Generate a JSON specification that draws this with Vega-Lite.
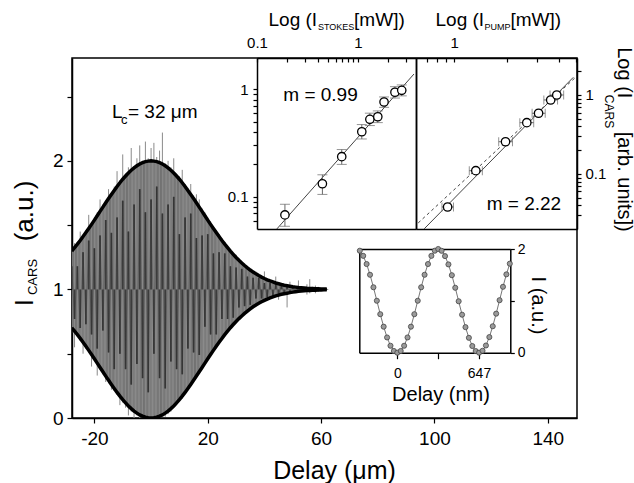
{
  "$schema": "https://vega.github.io/schema/vega-lite/v6.json",
  "width": 505,
  "height": 360,
  "autosize": {"type": "none"},
  "padding": {"left": 72, "top": 58, "right": 57, "bottom": 65},
  "config": {
    "font": "Liberation Sans",
    "view": {"stroke": "#000", "strokeWidth": 1.5},
    "axis": {
      "domainColor": "#000", "domainWidth": 1.5, "tickColor": "#000", "tickWidth": 1.2,
      "labelColor": "#000", "titleColor": "#000", "titleFontWeight": "normal",
      "labelFont": "Liberation Sans", "titleFont": "Liberation Sans",
      "labelFlush": false, "labelOverlap": false, "grid": false
    }
  },
  "datasets": {
    "main": [
      {"x": -28, "u": 1.298, "l": 0.702, "h": 1.32, "lo": 0.66, "z": 1.18},
      {"x": -27, "u": 1.325, "l": 0.675, "h": 1.36, "lo": 0.55, "z": 0.77},
      {"x": -26, "u": 1.352, "l": 0.648, "h": 1.37, "lo": 0.63, "z": 1.18},
      {"x": -25, "u": 1.381, "l": 0.619, "h": 1.45, "lo": 0.6, "z": 0.7},
      {"x": -24, "u": 1.411, "l": 0.589, "h": 1.42, "lo": 0.5, "z": 1.29},
      {"x": -23, "u": 1.442, "l": 0.558, "h": 1.46, "lo": 0.54, "z": 0.73},
      {"x": -22, "u": 1.474, "l": 0.526, "h": 1.58, "lo": 0.51, "z": 1.38},
      {"x": -21, "u": 1.506, "l": 0.494, "h": 1.52, "lo": 0.4, "z": 0.65},
      {"x": -20, "u": 1.539, "l": 0.461, "h": 1.56, "lo": 0.45, "z": 1.32},
      {"x": -19, "u": 1.573, "l": 0.427, "h": 1.6, "lo": 0.33, "z": 0.54},
      {"x": -18, "u": 1.607, "l": 0.393, "h": 1.7, "lo": 0.38, "z": 1.42},
      {"x": -17, "u": 1.64, "l": 0.36, "h": 1.66, "lo": 0.34, "z": 0.68},
      {"x": -16, "u": 1.674, "l": 0.326, "h": 1.69, "lo": 0.28, "z": 1.54},
      {"x": -15, "u": 1.707, "l": 0.293, "h": 1.78, "lo": 0.27, "z": 0.51},
      {"x": -14, "u": 1.739, "l": 0.261, "h": 1.75, "lo": 0.22, "z": 1.44},
      {"x": -13, "u": 1.77, "l": 0.23, "h": 1.8, "lo": 0.21, "z": 0.38},
      {"x": -12, "u": 1.801, "l": 0.199, "h": 1.92, "lo": 0.18, "z": 1.56},
      {"x": -11, "u": 1.83, "l": 0.17, "h": 1.85, "lo": 0.1, "z": 0.5},
      {"x": -10, "u": 1.857, "l": 0.143, "h": 2.05, "lo": 0.12, "z": 1.69},
      {"x": -9, "u": 1.882, "l": 0.118, "h": 1.9, "lo": 0.08, "z": 0.38},
      {"x": -8, "u": 1.906, "l": 0.094, "h": 1.95, "lo": 0.02, "z": 1.45},
      {"x": -7, "u": 1.927, "l": 0.073, "h": 2.1, "lo": 0.05, "z": 0.26},
      {"x": -6, "u": 1.946, "l": 0.054, "h": 1.96, "lo": 0, "z": 1.66},
      {"x": -5, "u": 1.962, "l": 0.038, "h": 2.02, "lo": 0.02, "z": 0.42},
      {"x": -4, "u": 1.976, "l": 0.024, "h": 2.12, "lo": 0, "z": 1.78},
      {"x": -3, "u": 1.986, "l": 0.014, "h": 2.0, "lo": 0, "z": 0.31},
      {"x": -2, "u": 1.994, "l": 0.006, "h": 2.15, "lo": 0, "z": 1.6},
      {"x": -1, "u": 1.998, "l": 0.002, "h": 2.02, "lo": 0, "z": 0.2},
      {"x": 0, "u": 2.0, "l": 0.0, "h": 2.1, "lo": 0, "z": 1.7},
      {"x": 1, "u": 1.998, "l": 0.002, "h": 2.14, "lo": 0, "z": 0.5},
      {"x": 2, "u": 1.994, "l": 0.006, "h": 2.03, "lo": 0, "z": 1.8},
      {"x": 3, "u": 1.986, "l": 0.014, "h": 2.08, "lo": 0, "z": 0.31},
      {"x": 4, "u": 1.976, "l": 0.024, "h": 2.22, "lo": 0.02, "z": 1.59},
      {"x": 5, "u": 1.962, "l": 0.038, "h": 1.98, "lo": 0.01, "z": 0.23},
      {"x": 6, "u": 1.946, "l": 0.054, "h": 2.0, "lo": 0.03, "z": 1.66},
      {"x": 7, "u": 1.927, "l": 0.073, "h": 1.95, "lo": 0.05, "z": 0.44},
      {"x": 8, "u": 1.906, "l": 0.094, "h": 2.02, "lo": 0.09, "z": 1.72},
      {"x": 9, "u": 1.882, "l": 0.118, "h": 1.9, "lo": 0.1, "z": 0.38},
      {"x": 10, "u": 1.857, "l": 0.143, "h": 1.88, "lo": 0.14, "z": 1.43},
      {"x": 11, "u": 1.83, "l": 0.17, "h": 1.93, "lo": 0.15, "z": 0.34},
      {"x": 12, "u": 1.801, "l": 0.199, "h": 1.82, "lo": 0.2, "z": 1.56},
      {"x": 13, "u": 1.77, "l": 0.23, "h": 1.79, "lo": 0.24, "z": 0.54},
      {"x": 14, "u": 1.739, "l": 0.261, "h": 1.82, "lo": 0.25, "z": 1.59},
      {"x": 15, "u": 1.707, "l": 0.293, "h": 1.73, "lo": 0.3, "z": 0.51},
      {"x": 16, "u": 1.674, "l": 0.326, "h": 1.74, "lo": 0.32, "z": 1.4},
      {"x": 17, "u": 1.64, "l": 0.36, "h": 1.7, "lo": 0.36, "z": 0.49},
      {"x": 18, "u": 1.607, "l": 0.393, "h": 1.63, "lo": 0.4, "z": 1.42},
      {"x": 19, "u": 1.573, "l": 0.427, "h": 1.6, "lo": 0.43, "z": 0.71},
      {"x": 20, "u": 1.539, "l": 0.461, "h": 1.56, "lo": 0.46, "z": 1.43},
      {"x": 21, "u": 1.506, "l": 0.494, "h": 1.53, "lo": 0.5, "z": 0.65},
      {"x": 22, "u": 1.474, "l": 0.526, "h": 1.49, "lo": 0.53, "z": 1.28},
      {"x": 23, "u": 1.442, "l": 0.558, "h": 1.46, "lo": 0.56, "z": 0.65},
      {"x": 24, "u": 1.411, "l": 0.589, "h": 1.43, "lo": 0.59, "z": 1.29},
      {"x": 25, "u": 1.381, "l": 0.619, "h": 1.4, "lo": 0.62, "z": 0.77},
      {"x": 26, "u": 1.352, "l": 0.648, "h": 1.37, "lo": 0.65, "z": 1.28},
      {"x": 27, "u": 1.325, "l": 0.675, "h": 1.34, "lo": 0.68, "z": 0.77},
      {"x": 28, "u": 1.298, "l": 0.702, "h": 1.31, "lo": 0.7, "z": 1.18},
      {"x": 29, "u": 1.273, "l": 0.727, "h": 1.28, "lo": 0.73, "z": 0.78},
      {"x": 30, "u": 1.249, "l": 0.751, "h": 1.27, "lo": 0.75, "z": 1.17},
      {"x": 31, "u": 1.227, "l": 0.773, "h": 1.24, "lo": 0.78, "z": 0.86},
      {"x": 32, "u": 1.206, "l": 0.794, "h": 1.22, "lo": 0.79, "z": 1.16},
      {"x": 33, "u": 1.186, "l": 0.814, "h": 1.2, "lo": 0.81, "z": 0.87},
      {"x": 34, "u": 1.168, "l": 0.832, "h": 1.18, "lo": 0.83, "z": 1.1},
      {"x": 35, "u": 1.151, "l": 0.849, "h": 1.16, "lo": 0.84, "z": 0.88},
      {"x": 36, "u": 1.135, "l": 0.865, "h": 1.15, "lo": 0.86, "z": 1.09},
      {"x": 37, "u": 1.121, "l": 0.879, "h": 1.14, "lo": 0.87, "z": 0.93},
      {"x": 38, "u": 1.108, "l": 0.892, "h": 1.12, "lo": 0.88, "z": 1.09},
      {"x": 39, "u": 1.096, "l": 0.904, "h": 1.11, "lo": 0.9, "z": 0.93},
      {"x": 40, "u": 1.085, "l": 0.915, "h": 1.14, "lo": 0.91, "z": 1.05},
      {"x": 41, "u": 1.075, "l": 0.925, "h": 1.08, "lo": 0.92, "z": 0.94},
      {"x": 42, "u": 1.066, "l": 0.934, "h": 1.07, "lo": 0.93, "z": 1.05},
      {"x": 43, "u": 1.058, "l": 0.942, "h": 1.06, "lo": 0.94, "z": 0.95},
      {"x": 44, "u": 1.05, "l": 0.95, "h": 1.1, "lo": 0.94, "z": 1.04},
      {"x": 45, "u": 1.044, "l": 0.956, "h": 1.05, "lo": 0.92, "z": 0.96},
      {"x": 46, "u": 1.038, "l": 0.962, "h": 1.04, "lo": 0.96, "z": 1.03},
      {"x": 47, "u": 1.033, "l": 0.967, "h": 1.04, "lo": 0.96, "z": 0.97},
      {"x": 48, "u": 1.029, "l": 0.971, "h": 1.03, "lo": 0.86, "z": 1.02},
      {"x": 49, "u": 1.025, "l": 0.975, "h": 1.06, "lo": 0.97, "z": 0.98},
      {"x": 50, "u": 1.021, "l": 0.979, "h": 1.03, "lo": 0.97, "z": 1.02},
      {"x": 51, "u": 1.018, "l": 0.982, "h": 1.02, "lo": 0.98, "z": 0.98},
      {"x": 52, "u": 1.015, "l": 0.985, "h": 1.07, "lo": 0.98, "z": 1.01},
      {"x": 53, "u": 1.013, "l": 0.987, "h": 1.02, "lo": 0.98, "z": 0.99},
      {"x": 54, "u": 1.011, "l": 0.989, "h": 1.02, "lo": 0.98, "z": 1.01},
      {"x": 55, "u": 1.009, "l": 0.991, "h": 1.04, "lo": 0.96, "z": 0.99},
      {"x": 56, "u": 1.008, "l": 0.992, "h": 1.08, "lo": 0.97, "z": 1.01},
      {"x": 57, "u": 1.007, "l": 0.993, "h": 1.02, "lo": 0.98, "z": 0.99},
      {"x": 58, "u": 1.006, "l": 0.994, "h": 1.03, "lo": 0.97, "z": 1.01},
      {"x": 59, "u": 1.005, "l": 0.995, "h": 1.02, "lo": 0.98, "z": 0.99},
      {"x": 60, "u": 1.004, "l": 0.996, "h": 1.01, "lo": 0.99, "z": 1.0},
      {"x": 61, "u": 1.003, "l": 0.997, "h": 1.01, "lo": 0.99, "z": 1.0},
      {"x": 62, "u": 1.003, "l": 0.997, "h": 1.005, "lo": 0.995, "z": 1.0}
    ],
    "stokes": [
      {"x": 0.189, "y": 0.0676, "ylo": 0.053, "yhi": 0.085},
      {"x": 0.444, "y": 0.132, "ylo": 0.105, "yhi": 0.16},
      {"x": 0.69, "y": 0.236, "ylo": 0.2, "yhi": 0.275},
      {"x": 1.09, "y": 0.403, "ylo": 0.345, "yhi": 0.47},
      {"x": 1.31, "y": 0.526, "ylo": 0.46, "yhi": 0.6},
      {"x": 1.57, "y": 0.556, "ylo": 0.49, "yhi": 0.63},
      {"x": 1.81, "y": 0.762, "ylo": 0.68, "yhi": 0.85},
      {"x": 2.32, "y": 0.94, "ylo": 0.83, "yhi": 1.06},
      {"x": 2.71, "y": 0.98, "ylo": 0.87, "yhi": 1.1}
    ],
    "pump": [
      {"x": 0.916, "y": 0.0382, "xlo": 0.85, "xhi": 0.99},
      {"x": 1.33, "y": 0.11, "xlo": 1.22, "xhi": 1.45},
      {"x": 1.97, "y": 0.256, "xlo": 1.8, "xhi": 2.16},
      {"x": 2.61, "y": 0.446, "xlo": 2.38, "xhi": 2.86},
      {"x": 3.05, "y": 0.587, "xlo": 2.8, "xhi": 3.33},
      {"x": 3.58, "y": 0.865, "xlo": 3.27, "xhi": 3.92},
      {"x": 3.88, "y": 1.0, "xlo": 3.55, "xhi": 4.25}
    ],
    "wave": [
      {"d": -297, "i": 1.967}, {"d": -270, "i": 1.868}, {"d": -243, "i": 1.71}, {"d": -216, "i": 1.503},
      {"d": -189, "i": 1.262}, {"d": -162, "i": 1.002}, {"d": -135, "i": 0.743}, {"d": -108, "i": 0.502},
      {"d": -81, "i": 0.294}, {"d": -54, "i": 0.134}, {"d": -27, "i": 0.034}, {"d": 0, "i": 0.0},
      {"d": 27, "i": 0.034}, {"d": 54, "i": 0.134}, {"d": 81, "i": 0.294}, {"d": 108, "i": 0.502},
      {"d": 135, "i": 0.743}, {"d": 162, "i": 1.002}, {"d": 189, "i": 1.262}, {"d": 216, "i": 1.503},
      {"d": 243, "i": 1.71}, {"d": 270, "i": 1.868}, {"d": 297, "i": 1.967}, {"d": 324, "i": 2.0},
      {"d": 351, "i": 1.965}, {"d": 378, "i": 1.863}, {"d": 405, "i": 1.703}, {"d": 432, "i": 1.495},
      {"d": 459, "i": 1.252}, {"d": 486, "i": 0.992}, {"d": 513, "i": 0.733}, {"d": 540, "i": 0.493},
      {"d": 567, "i": 0.287}, {"d": 594, "i": 0.129}, {"d": 621, "i": 0.032}, {"d": 648, "i": 0.0},
      {"d": 675, "i": 0.037}, {"d": 702, "i": 0.139}, {"d": 729, "i": 0.301}, {"d": 756, "i": 0.51},
      {"d": 783, "i": 0.753}, {"d": 810, "i": 1.013}, {"d": 837, "i": 1.271}, {"d": 864, "i": 1.511},
      {"d": 891, "i": 1.717}
    ]
  },
  "layer": [
    {
      "layer": [
        {
          "data": {"name": "main"},
          "mark": {"type": "rule", "color": "#727272", "strokeWidth": 3, "clip": true},
          "encoding": {
            "x": {
              "field": "x", "type": "quantitative",
              "scale": {"domain": [-27.9, 150.3], "nice": false, "zero": false},
              "axis": {
                "orient": "bottom", "values": [-20, 20, 60, 100, 140],
                "labelExpr": "datum.value < 0 ? '-' + abs(datum.value) : '' + datum.value",
                "tickSize": 5, "labelPadding": 6, "labelFontSize": 19,
                "title": "Delay (μm)", "titleFontSize": 25,
                "titleX": 262, "titleY": 60, "titleAlign": "center", "titleBaseline": "alphabetic"
              }
            },
            "y": {
              "field": "l", "type": "quantitative",
              "scale": {"domain": [0, 2.8], "nice": false, "zero": false},
              "axis": {
                "orient": "left", "values": [0, 0.5, 1, 1.5, 2, 2.5],
                "labelExpr": "datum.value == 0 ? '0' : datum.value == 1 ? '1' : datum.value == 2 ? '2' : ''",
                "tickSize": 5, "labelPadding": 4, "labelFontSize": 19,
                "title": "I\u00a0\u00a0\u00a0\u00a0\u00a0\u00a0\u00a0\u00a0(a.u.)", "titleFontSize": 26,
                "titleAngle": 270, "titleX": -40, "titleY": 185, "titleAlign": "center", "titleBaseline": "alphabetic"
              }
            },
            "y2": {"field": "u"}
          }
        },
        {
          "data": {"name": "main"},
          "mark": {"type": "rule", "color": "#8a8a8a", "strokeWidth": 1, "clip": true},
          "encoding": {
            "x": {"field": "x", "type": "quantitative", "scale": {"domain": [-27.9, 150.3]}, "axis": null},
            "y": {"field": "lo", "type": "quantitative", "scale": {"domain": [0, 2.8]}, "axis": null},
            "y2": {"field": "h"}
          }
        },
        {
          "data": {"name": "main"},
          "mark": {"type": "rule", "color": "#3c3c3c", "strokeWidth": 1.7, "clip": true},
          "encoding": {
            "x": {"field": "x", "type": "quantitative", "scale": {"domain": [-27.9, 150.3]}, "axis": null},
            "y": {"field": "z", "type": "quantitative", "scale": {"domain": [0, 2.8]}, "axis": null},
            "y2": {"datum": 1}
          }
        },
        {
          "data": {"name": "main"},
          "mark": {"type": "line", "color": "#333", "strokeWidth": 0.7, "opacity": 0.6, "clip": true},
          "encoding": {
            "x": {"field": "x", "type": "quantitative", "scale": {"domain": [-27.9, 150.3]}, "axis": null},
            "y": {"field": "z", "type": "quantitative", "scale": {"domain": [0, 2.8]}, "axis": null}
          }
        },
        {
          "data": {"name": "main"},
          "mark": {"type": "line", "color": "#000", "strokeWidth": 3.5, "clip": true},
          "encoding": {
            "x": {"field": "x", "type": "quantitative", "scale": {"domain": [-27.9, 150.3]}, "axis": null},
            "y": {"field": "u", "type": "quantitative", "scale": {"domain": [0, 2.8]}, "axis": null}
          }
        },
        {
          "data": {"name": "main"},
          "mark": {"type": "line", "color": "#000", "strokeWidth": 3.5, "clip": true},
          "encoding": {
            "x": {"field": "x", "type": "quantitative", "scale": {"domain": [-27.9, 150.3]}, "axis": null},
            "y": {"field": "l", "type": "quantitative", "scale": {"domain": [0, 2.8]}, "axis": null}
          }
        },
        {
          "data": {"values": [
            {"x": -13.79, "y": 2.333, "t": "L"},
            {"x": -8.14, "y": 2.333, "t": "= 32 μm"},
            {"x": 46.66, "y": 2.466, "t": "m = 0.99"},
            {"x": 118.43, "y": 1.618, "t": "m = 2.22"}
          ]},
          "mark": {"type": "text", "fontSize": 19, "align": "left", "baseline": "alphabetic", "color": "#000"},
          "encoding": {
            "x": {"field": "x", "type": "quantitative", "scale": {"domain": [-27.9, 150.3]}, "axis": null},
            "y": {"field": "y", "type": "quantitative", "scale": {"domain": [0, 2.8]}, "axis": null},
            "text": {"field": "t"}
          }
        },
        {
          "data": {"values": [{"x": -10.61, "y": 2.287, "t": "c"}]},
          "mark": {"type": "text", "fontSize": 13, "align": "left", "baseline": "alphabetic", "color": "#000"},
          "encoding": {
            "x": {"field": "x", "type": "quantitative", "scale": {"domain": [-27.9, 150.3]}, "axis": null},
            "y": {"field": "y", "type": "quantitative", "scale": {"domain": [0, 2.8]}, "axis": null},
            "text": {"field": "t"}
          }
        },
        {
          "data": {"values": [
            {"x": 58.91, "y": 3.018, "t": "STOKES"},
            {"x": 117.66, "y": 3.018, "t": "PUMP"}
          ]},
          "mark": {"type": "text", "fontSize": 9, "align": "left", "baseline": "alphabetic", "color": "#000"},
          "encoding": {
            "x": {"field": "x", "type": "quantitative", "scale": {"domain": [-27.9, 150.3]}, "axis": null},
            "y": {"field": "y", "type": "quantitative", "scale": {"domain": [0, 2.8]}, "axis": null},
            "text": {"field": "t"}
          }
        },
        {
          "data": {"values": [{"x": -40.25, "y": 1.097, "t": "CARS"}]},
          "mark": {"type": "text", "fontSize": 13, "angle": 270, "align": "center", "baseline": "alphabetic", "color": "#000"},
          "encoding": {
            "x": {"field": "x", "type": "quantitative", "scale": {"domain": [-27.9, 150.3]}, "axis": null},
            "y": {"field": "y", "type": "quantitative", "scale": {"domain": [0, 2.8]}, "axis": null},
            "text": {"field": "t"}
          }
        },
        {
          "data": {"values": [{"x": 160.18, "y": 2.384, "t": "CARS"}]},
          "mark": {"type": "text", "fontSize": 12, "angle": 90, "align": "center", "baseline": "alphabetic", "color": "#000"},
          "encoding": {
            "x": {"field": "x", "type": "quantitative", "scale": {"domain": [-27.9, 150.3]}, "axis": null},
            "y": {"field": "y", "type": "quantitative", "scale": {"domain": [0, 2.8]}, "axis": null},
            "text": {"field": "t"}
          }
        }
      ],
      "resolve": {"axis": {"x": "independent", "y": "independent"}}
    },
    {
      "layer": [
        {
          "data": {"values": [{"x": 0.157, "y": 0.05}, {"x": 3.58, "y": 1.39}]},
          "mark": {"type": "line", "color": "#444", "strokeWidth": 1},
          "encoding": {
            "x": {
              "field": "x", "type": "quantitative",
              "scale": {"type": "log", "domain": [0.1, 3.75], "range": [185, 344], "nice": false},
              "axis": {
                "orient": "top", "values": [0.1, 0.2, 0.3, 0.4, 0.5, 0.6, 0.7, 0.8, 0.9, 1, 2, 3],
                "labelExpr": "datum.value == 0.1 ? '0.1' : datum.value == 1 ? '1' : ''",
                "tickSize": -4, "labelPadding": 15, "labelFontSize": 15, "labelBaseline": "alphabetic",
                "title": "Log (I\u00a0\u00a0\u00a0\u00a0\u00a0\u00a0\u00a0[mW])", "titleFontSize": 19,
                "titleX": 264.15, "titleY": -33, "titleAlign": "center", "titleBaseline": "alphabetic", "titleAngle": 0
              }
            },
            "y": {
              "field": "y", "type": "quantitative",
              "scale": {"type": "log", "domain": [0.05, 1.96], "range": [171, 0], "nice": false},
              "axis": {
                "orient": "left", "offset": -185,
                "values": [0.06, 0.07, 0.08, 0.09, 0.1, 0.2, 0.3, 0.4, 0.5, 0.6, 0.7, 0.8, 0.9, 1],
                "labelExpr": "datum.value == 0.1 ? '0.1' : datum.value == 1 ? '1' : ''",
                "tickSize": 4, "labelPadding": 5, "labelFontSize": 15, "title": null
              }
            }
          }
        },
        {
          "data": {"name": "stokes"},
          "mark": {"type": "errorbar", "ticks": {"size": 10, "color": "#666"}, "rule": {"color": "#666"}},
          "encoding": {
            "x": {"field": "x", "type": "quantitative", "axis": null},
            "y": {"field": "ylo", "type": "quantitative", "axis": null},
            "y2": {"field": "yhi"}
          }
        },
        {
          "data": {"name": "stokes"},
          "mark": {"type": "point", "shape": "circle", "filled": true, "fill": "#fff", "stroke": "#000", "strokeWidth": 1.3, "size": 70, "opacity": 1},
          "encoding": {
            "x": {"field": "x", "type": "quantitative", "axis": {"orient": "bottom", "offset": -189, "ticks": false, "labels": false, "title": null}},
            "y": {"field": "y", "type": "quantitative", "axis": {"orient": "right", "offset": -161, "ticks": false, "labels": false, "title": null}}
          }
        }
      ],
      "resolve": {"axis": {"x": "independent", "y": "independent"}}
    },
    {
      "layer": [
        {
          "data": {"values": [{"x": 0.672, "y": 0.0202}, {"x": 4.83, "y": 1.675}]},
          "mark": {"type": "line", "color": "#444", "strokeWidth": 1},
          "encoding": {
            "x": {
              "field": "x", "type": "quantitative",
              "scale": {"type": "log", "domain": [0.603, 5.07], "range": [344, 505], "nice": false},
              "axis": {
                "orient": "top", "values": [0.7, 0.8, 0.9, 1, 2, 3, 4, 5],
                "labelExpr": "datum.value == 1 ? '1' : ''",
                "tickSize": -4, "labelPadding": 15, "labelFontSize": 15, "labelBaseline": "alphabetic",
                "title": "Log (I\u00a0\u00a0\u00a0\u00a0\u00a0[mW])", "titleFontSize": 19,
                "titleX": 425.85, "titleY": -33, "titleAlign": "center", "titleBaseline": "alphabetic", "titleAngle": 0
              }
            },
            "y": {
              "field": "y", "type": "quantitative",
              "scale": {"type": "log", "domain": [0.0201, 2.94], "range": [171, 0], "nice": false},
              "axis": {
                "orient": "right",
                "values": [0.03, 0.04, 0.05, 0.06, 0.07, 0.08, 0.09, 0.1, 0.2, 0.3, 0.4, 0.5, 0.6, 0.7, 0.8, 0.9, 1, 2],
                "labelExpr": "datum.value == 0.1 ? '0.1' : datum.value == 1 ? '1' : ''",
                "tickSize": 4, "labelPadding": 4, "labelFontSize": 15,
                "title": "Log (I\u00a0\u00a0\u00a0\u00a0\u00a0\u00a0[arb. units])", "titleFontSize": 20,
                "titleAngle": 90, "titleX": 40, "titleY": 81, "titleAlign": "center", "titleBaseline": "alphabetic"
              }
            }
          }
        },
        {
          "data": {"values": [{"x": 0.621, "y": 0.024}, {"x": 5.07, "y": 1.74}]},
          "mark": {"type": "line", "color": "#444", "strokeWidth": 1, "strokeDash": [3, 3]},
          "encoding": {
            "x": {"field": "x", "type": "quantitative", "axis": null},
            "y": {"field": "y", "type": "quantitative", "axis": null}
          }
        },
        {
          "data": {"name": "pump"},
          "mark": {"type": "errorbar", "ticks": {"size": 9, "color": "#666"}, "rule": {"color": "#666"}},
          "encoding": {
            "y": {"field": "y", "type": "quantitative", "axis": null},
            "x": {"field": "xlo", "type": "quantitative", "axis": null},
            "x2": {"field": "xhi"}
          }
        },
        {
          "data": {"name": "pump"},
          "mark": {"type": "point", "shape": "circle", "filled": true, "fill": "#fff", "stroke": "#000", "strokeWidth": 1.3, "size": 70, "opacity": 1},
          "encoding": {
            "x": {"field": "x", "type": "quantitative", "axis": {"orient": "bottom", "offset": -189, "ticks": false, "labels": false, "title": null}},
            "y": {"field": "y", "type": "quantitative", "axis": {"orient": "left", "offset": -344, "ticks": false, "labels": false, "title": null}}
          }
        }
      ],
      "resolve": {"axis": {"x": "independent", "y": "independent"}}
    },
    {
      "layer": [
        {
          "data": {"name": "wave"},
          "mark": {"type": "line", "color": "#777", "strokeWidth": 1},
          "encoding": {
            "x": {
              "field": "d", "type": "quantitative",
              "scale": {"domain": [-301, 895], "range": [287.3, 438.3], "nice": false, "zero": false},
              "axis": {
                "orient": "bottom", "offset": -65.3, "values": [0, 323.5, 647],
                "labelExpr": "datum.value == 0 ? '0' : datum.value == 647 ? '647' : ''",
                "tickSize": 6, "labelPadding": 8, "labelFontSize": 14,
                "title": "Delay (nm)", "titleFontSize": 20,
                "titleX": 368.5, "titleY": 47.3, "titleAlign": "center", "titleBaseline": "alphabetic"
              }
            },
            "y": {
              "field": "i", "type": "quantitative",
              "scale": {"domain": [0, 2], "range": [294.7, 191], "nice": false},
              "axis": {
                "orient": "right", "offset": -66.7, "values": [0, 1, 2],
                "labelExpr": "datum.value == 0 ? '0' : datum.value == 2 ? '2' : ''",
                "tickSize": 4, "labelPadding": 3, "labelFontSize": 14,
                "title": "I (a.u.)", "titleFontSize": 20,
                "titleAngle": 90, "titleX": 20.7, "titleY": 247, "titleAlign": "center", "titleBaseline": "alphabetic"
              }
            }
          }
        },
        {
          "data": {"name": "wave"},
          "mark": {"type": "point", "shape": "circle", "filled": true, "fill": "#9a9a9a", "stroke": "#444", "strokeWidth": 0.8, "size": 26, "opacity": 1},
          "encoding": {
            "x": {"field": "d", "type": "quantitative", "axis": {"orient": "top", "offset": -191, "ticks": false, "labels": false, "title": null}},
            "y": {"field": "i", "type": "quantitative", "axis": {"orient": "left", "offset": -287.3, "ticks": false, "labels": false, "title": null}}
          }
        }
      ],
      "resolve": {"axis": {"x": "independent", "y": "independent"}}
    }
  ],
  "resolve": {
    "scale": {"x": "independent", "y": "independent"},
    "axis": {"x": "independent", "y": "independent"}
  }
}
